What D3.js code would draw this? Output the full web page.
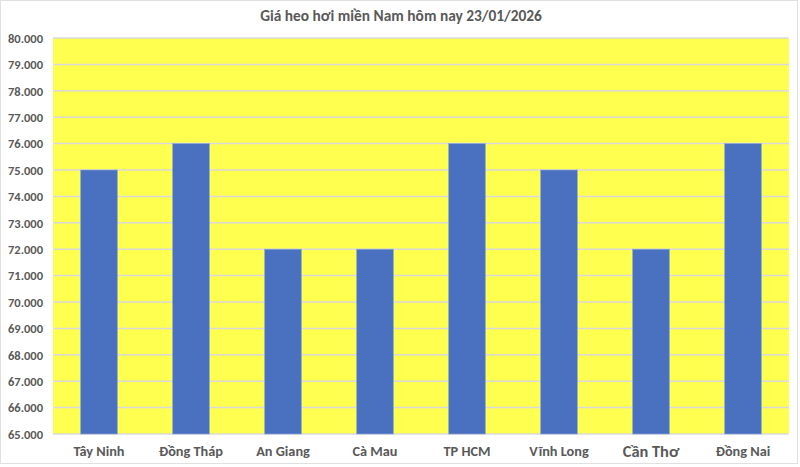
<!DOCTYPE html>
<html><head><meta charset="utf-8">
<script src="https://cdn.jsdelivr.net/npm/d3@7"></script>
<style>body{margin:0;background:#fff}svg{display:block}text{font-family:Calibri,Carlito,"Open Sans","Noto Sans",sans-serif}</style>
</head><body><svg id="c" width="800" height="467"></svg>
<script>
const title = "Giá heo hơi miền Nam hôm nay 23/01/2026";
const categories = ["Tây Ninh","Đồng Tháp","An Giang","Cà Mau","TP HCM","Vĩnh Long","Cần Thơ","Đồng Nai"];
const values = [75000,76000,72000,72000,76000,75000,72000,76000];
const yTicks = [65000,66000,67000,68000,69000,70000,71000,72000,73000,74000,75000,76000,77000,78000,79000,80000];

const svg = d3.select("#c");
const m = {l:53, r:11, t:38, b:33};
const W = 800, H = 467;
const iw = W - m.l - m.r, ih = H - m.t - m.b;

svg.append("rect").attr("x",0.5).attr("y",0.5).attr("width",W-3).attr("height",H-4)
  .attr("fill","#fff").attr("stroke","#e0e0e0");

const x = d3.scaleBand().domain(categories).range([0, iw]).paddingInner(0.6).paddingOuter(0.3);
const y = d3.scaleLinear().domain([65000,80000]).range([ih, 0]);
const g = svg.append("g").attr("transform",`translate(${m.l},${m.t})`);

g.append("rect").attr("width",iw).attr("height",ih).attr("fill","#ffff50");

g.append("g").selectAll("line").data(yTicks).join("line")
  .attr("x1",0).attr("x2",iw).attr("y1",d=>y(d)).attr("y2",d=>y(d))
  .attr("stroke","#d9d9d9").attr("stroke-width",1.5);

g.append("g").selectAll("rect").data(values).join("rect")
  .attr("x",(d,i)=>x(categories[i])).attr("width",x.bandwidth())
  .attr("y",d=>y(d)).attr("height",d=>ih - y(d))
  .attr("fill","#4a70c0").attr("stroke","#8fa9d9").attr("stroke-width",0.6);

const ya = g.append("g").call(d3.axisLeft(y).tickValues(yTicks).tickFormat(d=>d3.format(",.0f")(d).replace(/,/g,".")).tickSize(0).tickPadding(10));
ya.select(".domain").remove();
ya.selectAll("text").attr("font-size","12.5px").attr("font-weight","bold").attr("fill","#595959").attr("dy","0.35em");

const xa = g.append("g").attr("transform",`translate(0,${ih})`).call(d3.axisBottom(x).tickSize(0).tickPadding(12));
xa.select(".domain").remove();
xa.selectAll("text").attr("font-size",d=>d==="Cần Thơ"?"16.4px":"14.3px").attr("font-weight","bold").attr("fill","#595959")
  .attr("dy",d=>d==="Cần Thơ"?"0.68em":"0.72em");

svg.append("text").attr("x",401).attr("y",21).attr("text-anchor","middle")
  .attr("font-size","15.4px").attr("font-weight","bold").attr("fill","#595959").text(title);
</script></body></html>
